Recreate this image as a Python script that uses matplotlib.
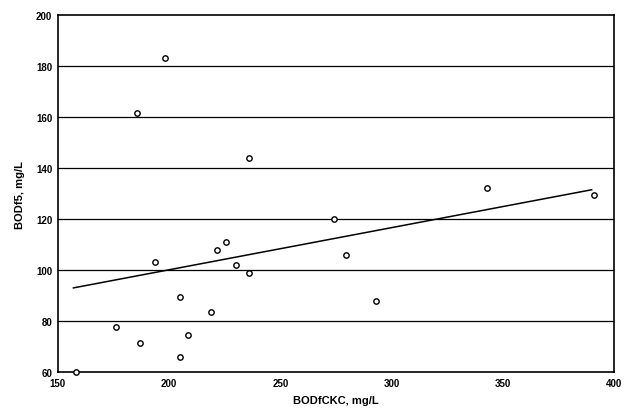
import matplotlib.pyplot as plt

# BODfCKC vs BODf5 values
bod_ckc = [158, 176, 187, 185.5, 193.5, 198, 205, 205, 208.5, 219, 221.5,
           225.5, 230, 236, 236, 274, 279.5, 293, 343, 391]
bod_5 = [60, 77.6, 71.5, 161.5, 103, 183, 89.5, 66, 74.5, 83.5, 108,
         111, 102, 99, 144, 120, 106, 87.8, 132, 129.5]

# regression line endpoints
fit_x = [157, 390]
fit_y = [93, 131.5]

plt.rcParams['font.family'] = ['Liberation Sans', 'DejaVu Sans']

fig = plt.figure(figsize=(6.29, 4.14), dpi=100)
ax = fig.add_axes([0.092, 0.099, 0.884, 0.862])

for y in range(80, 200, 20):
    ax.axhline(y, color='black', lw=0.9, zorder=1)

ax.plot(fit_x, fit_y, color='black', lw=1.1, zorder=2)
ax.scatter(bod_ckc, bod_5, s=15, facecolors='white', edgecolors='black',
           linewidths=1.0, zorder=3, clip_on=False)

ax.set_xlim(150, 400)
ax.set_ylim(60, 200)
ax.set_xticks(range(150, 401, 50))
ax.set_yticks(range(60, 201, 20))
ax.tick_params(length=0, labelsize=7, pad=4)
for lab in ax.get_xticklabels() + ax.get_yticklabels():
    lab.set_fontweight('bold')
for s in ax.spines.values():
    s.set_linewidth(1.2)

ax.set_xlabel('BODfCKC, mg/L', fontsize=8, fontweight='bold', labelpad=5)
ax.set_ylabel('BODf5, mg/L', fontsize=8, fontweight='bold', labelpad=8)

fig.savefig('out.png', dpi=100)
